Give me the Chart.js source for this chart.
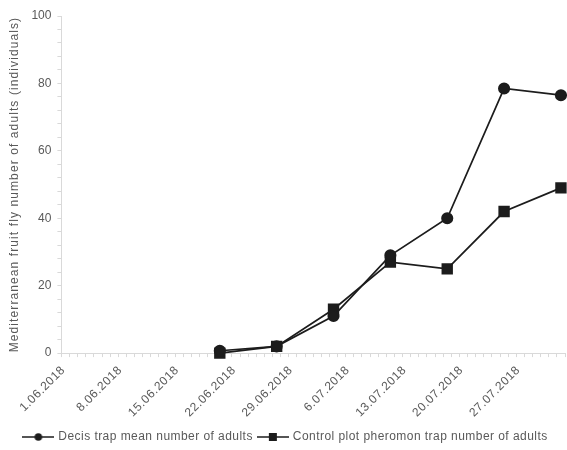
<!DOCTYPE html>
<html>
<head>
<meta charset="utf-8">
<script src="https://cdn.jsdelivr.net/npm/chart.js@4.4.1/dist/chart.umd.min.js"></script>
<style>
  html, body { margin: 0; padding: 0; background: #ffffff; }
  #wrap { width: 567px; height: 450px; }
</style>
</head>
<body>
<div id="wrap"><canvas id="chart" width="567" height="450"></canvas></div>
<script>
// Sampling dates and trap counts
const sampleDates = ['20.06.2018', '27.06.2018', '4.07.2018', '11.07.2018', '18.07.2018', '25.07.2018', '1.08.2018'];
const decisAdults = [0.7, 2, 11, 29, 40, 78.5, 76.5];
const controlAdults = [0, 2, 13, 27, 25, 42, 49];

// Date axis range (one tick per day, a label every week)
const axisStart = '1.06.2018';
const axisEnd = '2.08.2018';
const labelEveryDays = 7;

const seriesNames = ['Decis trap mean number of adults', 'Control plot pheromon trap number of adults'];
const yAxisTitle = 'Mediterranean fruit fly number of adults (individuals)';

const TEXT = '#595959';
const AXIS = '#d9d9d9';
const INK = '#1c1c1c';

function parseDate(s) {
  const [d, m, y] = s.split('.').map(Number);
  return Date.UTC(y, m - 1, d);
}
const DAY = 86400000;
const t0 = parseDate(axisStart);
const dayIndex = s => Math.round((parseDate(s) - t0) / DAY);
const axisDays = dayIndex(axisEnd);

function formatDay(v) {
  const dt = new Date(t0 + v * DAY);
  const d = dt.getUTCDate();
  const m = String(dt.getUTCMonth() + 1).padStart(2, '0');
  return d + '.' + m + '.' + dt.getUTCFullYear();
}

// each sample sits in the middle of its day slot
const toPoints = vals => sampleDates.map((s, i) => ({ x: dayIndex(s) + 0.5, y: vals[i] }));

// small legend swatches: a line with the series marker on it
function swatch(kind) {
  const c = document.createElement('canvas');
  c.width = 32; c.height = 12;
  const g = c.getContext('2d');
  g.strokeStyle = INK; g.fillStyle = INK; g.lineWidth = 1.5;
  g.beginPath(); g.moveTo(0, 6); g.lineTo(32, 6); g.stroke();
  if (kind === 'circle') { g.beginPath(); g.arc(16, 6, 3.8, 0, Math.PI * 2); g.fill(); }
  else { g.fillRect(12, 2, 8, 8); }
  return c;
}
const swatches = [swatch('circle'), swatch('rect')];

// run a draw/measure method with extra letter spacing on the canvas
function spaced(obj, method, px) {
  const orig = obj[method];
  obj[method] = function (...args) {
    const ctx = this.ctx;
    const prev = ctx.letterSpacing;
    ctx.letterSpacing = px;
    try { return orig.apply(this, args); } finally { ctx.letterSpacing = prev; }
  };
}
const textSpacing = {
  id: 'textSpacing',
  beforeLayout(chart) {
    if (chart.$spaced) return;
    chart.$spaced = true;
    const x = chart.scales.x;
    spaced(x, 'update', '0.6px');
    spaced(x, 'drawLabels', '0.6px');
    // the last (unlabelled) day tick needs no room on the right
    const basePadding = x.getPadding.bind(x);
    x.getPadding = () => Object.assign({}, basePadding(), { right: 0 });
    spaced(chart.scales.y, 'drawTitle', '1.1px');
    spaced(chart.legend, 'fit', '0.45px');
    spaced(chart.legend, 'draw', '0.45px');
  }
};

Chart.defaults.font.family = '"Liberation Sans", Arial, sans-serif';
Chart.defaults.font.size = 12;
Chart.defaults.color = TEXT;

new Chart(document.getElementById('chart'), {
  type: 'line',
  plugins: [textSpacing],
  data: {
    datasets: [
      {
        label: seriesNames[0],
        data: toPoints(decisAdults),
        borderColor: INK, backgroundColor: INK,
        borderWidth: 1.75,
        pointStyle: 'circle', pointRadius: 5.2, pointHoverRadius: 5.2,
        tension: 0,
        clip: false
      },
      {
        label: seriesNames[1],
        data: toPoints(controlAdults),
        borderColor: INK, backgroundColor: INK,
        borderWidth: 1.75,
        pointStyle: 'rect', pointRadius: 6.8, pointHoverRadius: 6.8,
        tension: 0,
        clip: false
      }
    ]
  },
  options: {
    responsive: false,
    animation: false,
    layout: { autoPadding: false, padding: { top: 16, right: 2, left: 7, bottom: -3 } },
    plugins: {
      tooltip: { enabled: false },
      legend: {
        position: 'bottom',
        labels: {
          usePointStyle: true,
          pointStyleWidth: 28,
          boxHeight: 12,
          padding: 6,
          color: TEXT,
          font: { size: 12 },
          generateLabels: chart => chart.data.datasets.map((ds, i) => ({
            text: ds.label,
            pointStyle: swatches[i],
            fillStyle: INK, strokeStyle: INK, lineWidth: 0,
            fontColor: TEXT,
            hidden: false,
            datasetIndex: i
          }))
        }
      }
    },
    scales: {
      x: {
        type: 'linear',
        min: 0,
        max: axisDays,
        border: { color: AXIS, width: 1 },
        grid: { drawOnChartArea: false, color: AXIS, tickColor: AXIS, tickLength: 4 },
        afterFit: scale => { scale.paddingRight = 0; scale.height -= 1; },
        ticks: {
          stepSize: 1,
          autoSkip: false,
          minRotation: 45,
          maxRotation: 45,
          padding: 6,
          labelOffset: 2,
          color: TEXT,
          callback: v => (v % labelEveryDays === 0 ? formatDay(v) : '')
        }
      },
      y: {
        min: 0,
        max: 100,
        border: { color: AXIS, width: 1 },
        grid: { drawOnChartArea: false, color: AXIS, tickColor: AXIS, tickLength: 4 },
        ticks: {
          stepSize: 4,
          autoSkip: false,
          padding: 6,
          color: TEXT,
          callback: v => (v % 20 === 0 ? v : '')
        },
        title: { display: true, text: yAxisTitle, color: TEXT, font: { size: 12 }, padding: { top: 0, bottom: 4 } }
      }
    }
  }
});
</script>
</body>
</html>
